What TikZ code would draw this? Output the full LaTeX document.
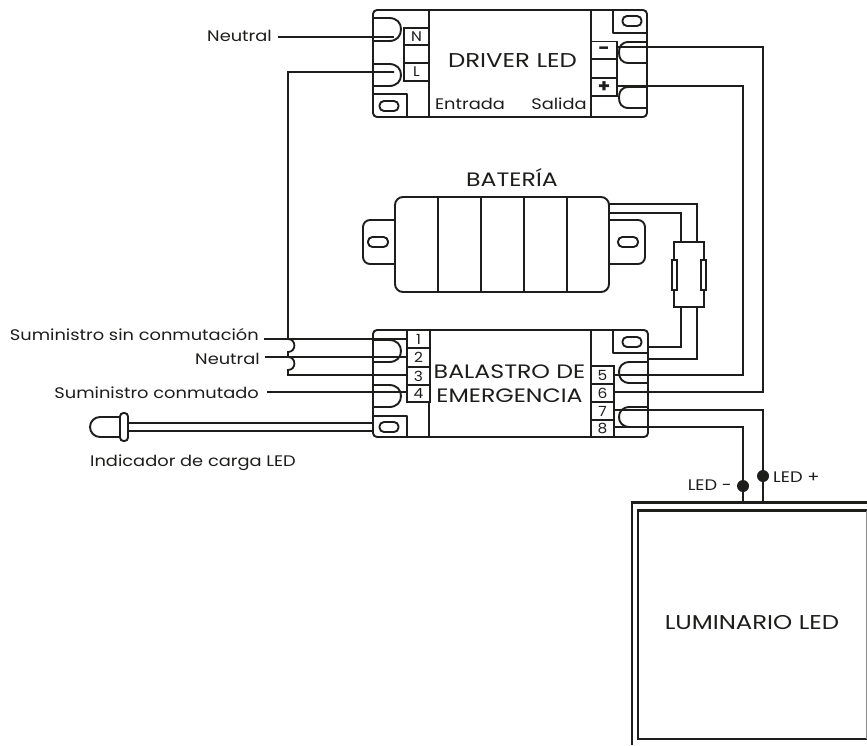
\documentclass[tikz,border=0pt]{standalone}
\usepackage{fontspec}
\setmainfont{Poppins}
\newfontfamily\fA[FakeStretch=1.22]{Poppins}
\newfontfamily\fB[FakeStretch=1.165]{Poppins}
\newfontfamily\fC[FakeStretch=1.1]{Poppins}
\newcommand{\fsA}{\fA\fontsize{20pt}{24pt}\selectfont}
\newcommand{\fsAs}{\fA\fontsize{19.4pt}{24pt}\selectfont}
\newcommand{\fsB}{\fB\fontsize{15.3pt}{18pt}\selectfont}
\newcommand{\fsC}{\fC\fontsize{14pt}{16pt}\selectfont}
\newcommand{\fsD}{\fC\fontsize{18pt}{18pt}\selectfont\bfseries}
\definecolor{ink}{HTML}{1D1D1B}
\tikzset{
  wire/.style={draw=ink,line width=1.8pt},
  shell/.style={draw=ink,line width=1.9pt,line join=round},
  core/.style={draw=ink,line width=2.4pt,line join=miter},
  term/.style={draw=ink,line width=1.7pt,rectangle,inner sep=0pt,font=\fsC,text=ink,fill=white},
  big/.style={font=\fsA,text=ink,inner sep=0pt,align=center},
  small/.style={font=\fsB,text=ink,inner sep=0pt},
  dot/.style={circle,fill=ink,draw=none,minimum size=12pt,inner sep=0pt},
  slot/.style={draw=ink,line width=1.9pt,rounded corners=4.5pt,rectangle,minimum width=19pt,minimum height=10pt,inner sep=0pt},
}
\begin{document}
\begin{tikzpicture}[x=1pt,y=-1pt]
\useasboundingbox[fill=white] (0,0) rectangle (867,745);
% ---------- DRIVER LED
\draw[shell,rounded corners=4pt] (429,10) -| (373,117) -| (647,10) -- cycle;
\draw[core] (429,10) rectangle (591,117);
\draw[shell] (373,94) -| (407,117);
\draw[shell] (613,10) |- (647,33);
\node[slot] (sd1) at (632,21) {};
\node[slot] (sd2) at (389,106) {};
\foreach \yy/\zz in {18/41,64/86}{\draw[shell] (373,\yy) -- (389,\yy) .. controls (397,\yy) and (401,\yy+5) .. (401,\yy+11) .. controls (401,\zz-5) and (397,\zz) .. (389,\zz) -- (373,\zz);}
\foreach \yy/\zz in {42/63,87/108}{\draw[shell] (647,\yy) -- (629,\yy) .. controls (621,\yy) and (619,\yy+5) .. (619,\yy+10.5) .. controls (619,\zz-5) and (621,\zz) .. (629,\zz) -- (647,\zz);}
\node[term,minimum width=25pt,minimum height=17.5pt] (tN) at (416.5,36.5) {N};
\node[term,minimum width=25pt,minimum height=18pt] (tX) at (416.5,54) {};
\node[term,minimum width=25pt,minimum height=18pt] (tL) at (416.5,72) {L};
\node[term,minimum width=26pt,minimum height=18pt,font=\fsD] (tM) at (604,50.5) {-};
\node[term,minimum width=26pt,minimum height=19pt] (tY) at (604,68.5) {};
\node[term,minimum width=26pt,minimum height=18pt,font=\fsD] (tP) at (604,87) {+};
\node[big] (drv) at (512.5,61) {DRIVER LED};
\node[small] (ent) at (470,104) {Entrada};
\node[small] (sal) at (559,104) {Salida};
% ---------- BATERIA
\draw[shell,rounded corners=7pt] (395,220) -- (363,220) -- (363,264) -- (395,264);
\draw[shell,rounded corners=7pt] (609,220) -- (645,220) -- (645,264) -- (609,264);
\node[draw=ink,line width=1.9pt,rounded corners=8pt,minimum width=214pt,minimum height=95pt,inner sep=0pt] (bat) at (502,244.5) {};
\foreach \xx in {438,481,523.7,566.6}{\draw[shell] (\xx,197) -- (\xx,292);}
\node[slot,minimum width=20pt] (sb1) at (378,242) {};
\node[slot,minimum width=20pt] (sb2) at (628,242) {};
\node[big,font=\fsAs] (batl) at (512,178) {BATERÍA};
% ---------- CONECTOR
\node[draw=ink,line width=1.5pt,minimum width=30pt,minimum height=65pt,inner sep=0pt] (con) at (689,274.5) {};
\node[draw=ink,line width=1.5pt,fill=white,minimum width=5pt,minimum height=30pt,inner sep=0pt] (cl) at (674.5,275) {};
\node[draw=ink,line width=1.5pt,fill=white,minimum width=5pt,minimum height=30pt,inner sep=0pt] (cr) at (703.5,275) {};
% ---------- BALASTRO
\draw[shell,rounded corners=4pt] (429,330) -| (373,437) -| (648,330) -- cycle;
\draw[core] (429,330) rectangle (591,437);
\draw[shell] (373,416) -| (407,437);
\draw[shell] (613,330) |- (648,353);
\node[slot] (sb3) at (632,342) {};
\node[slot] (sb4) at (389,427) {};
\foreach \yy/\zz in {340/362,385/407}{\draw[shell] (373,\yy) -- (389,\yy) .. controls (397,\yy) and (401,\yy+5) .. (401,\yy+11) .. controls (401,\zz-5) and (397,\zz) .. (389,\zz) -- (373,\zz);}
\foreach \yy/\zz in {362/383,407/427}{\draw[shell] (648,\yy) -- (630,\yy) .. controls (622,\yy) and (619,\yy+5) .. (619,\yy+10) .. controls (619,\zz-5) and (622,\zz) .. (630,\zz) -- (648,\zz);}
\foreach \n/\yc/\hh in {1/339/18,2/357.5/19,3/376/18,4/393.5/17}{\node[term,minimum width=22.5pt,minimum height=\hh pt] (b\n) at (418.5,\yc) {\n};}
\foreach \n/\yc/\hh in {5/375/18,6/393/18,7/411/18,8/428.5/17}{\node[term,minimum width=23pt,minimum height=\hh pt] (b\n) at (602.5,\yc) {\n};}
\node[big,font=\fsAs] (bal) at (509.5,384) {BALASTRO DE\\[0pt]EMERGENCIA};
% ---------- LED indicador
\node[draw=ink,line width=1.9pt,rounded corners=3.5pt,minimum width=8pt,minimum height=28pt,inner sep=0pt] (flange) at (124,427) {};
\draw[shell] (flange.west |- 0,417) -- (100,417) arc[start angle=90,end angle=270,radius=10pt] -- (flange.west |- 0,437);
\coordinate (sb4a) at (373,423);
\coordinate (sb4b) at (373,431);
\draw[wire] (flange.east |- sb4a) -- (sb4a);
\draw[wire] (flange.east |- sb4b) -- (sb4b);
% ---------- LUMINARIO
\draw[draw=ink,line width=2.6pt] (632,745) -- (632,502.5) -- (867,502.5);
\draw[draw=ink,line width=2.3pt] (867,510.5) -- (638,510.5) -- (638,739) -- (867,739);
\draw[draw=black!45,line width=1pt] (866.5,510.5) -- (866.5,739);
\coordinate (lumM) at (743,502);
\coordinate (lumP) at (763,502);
\node[big] (lum) at (752,622.5) {LUMINARIO LED};
\node[dot] (dM) at (743,486) {};
\node[dot] (dP) at (763,476) {};
\node[small,anchor=east] (lM) at (732,485.5) {LED -};
\node[small,anchor=west] (lP) at (773,477.5) {LED +};
% ---------- textos
\node[small,anchor=east] (tn1) at (272,36) {Neutral};
\node[small,anchor=east] (ts1) at (259,335) {Suministro sin conmutación};
\node[small,anchor=east] (tn2) at (260,359) {Neutral};
\node[small,anchor=east] (ts2) at (259,393) {Suministro conmutado};
\node[small,anchor=west] (ti) at (90,462.5) {Indicador de carga LED};
% ---------- cables
\coordinate (nEnd) at (394,37);
\coordinate (lEnd) at (394,72);
\coordinate (mEnd) at (617,47);
\coordinate (busV) at (288,72);
\coordinate (hop1) at (288,339);
\coordinate (hop2) at (288,352);
\coordinate (hop3) at (288,357);
\coordinate (hop4) at (288,370);
\coordinate (busE) at (288,375);
\draw[wire] (278,37) -- (nEnd);
\draw[wire] (lEnd) -- (busV) -- (hop1)
  .. controls (296.5,339) and (296.5,352) .. (hop2) -- (hop3)
  .. controls (296.5,357) and (296.5,370) .. (hop4) -- (busE) -- (b3.west |- busE);
\draw[wire] (264,339) -- (b1.west |- 0,339);
\draw[wire] (265,357) -- (b2.west |- 0,357);
\draw[wire] (267,392) -- (b4.west |- 0,392);
\draw[wire] (mEnd) -- (763,47) -- (763,392) -- (b6.east |- 0,392);
\draw[wire] (tP.east |- 0,86) -- (743,86) -- (743,375) -- (b5.east |- 0,375);
\draw[wire] (b7.east |- 0,410) -- (763,410) -- (lumP);
\draw[wire] (b8.east |- 0,427) -- (743,427) -- (lumM);
\coordinate (batA) at (609,204);
\coordinate (batB) at (609,213);
\draw[wire] (batA) -- (697,204) -- (697,242);
\draw[wire] (batB) -- (681,213) -- (681,242);
\draw[wire] (681,307) -- (681,347) -- (648,347);
\draw[wire] (697,307) -- (697,359) -- (648,359);
\end{tikzpicture}
\end{document}
